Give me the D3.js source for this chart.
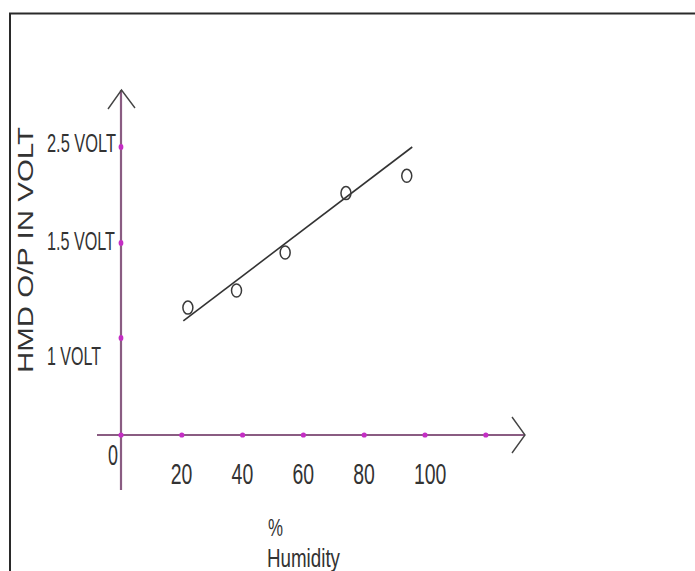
<!DOCTYPE html>
<html>
<head>
<meta charset="utf-8">
<script src="https://cdn.jsdelivr.net/npm/d3@7"></script>
<style>
  html, body { margin: 0; padding: 0; background: #fff; }
  svg { display: block; }
  text { font-family: "Liberation Sans", Arial, sans-serif; fill: #333; }
</style>
</head>
<body>
<script>
// ---- data ----
const humidity = [22, 38, 54, 74, 94];
const voltage = [1.16, 1.25, 1.45, 2.02, 2.20];
const fitHumidity = [20.5, 95.8];
const fitVoltage = [1.09, 2.50];
const xTickValues = [0, 20, 40, 60, 80, 100, 120];
const xTickLabels = ["20", "40", "60", "80", "100"];
const xLabelValues = [20, 40, 60, 80, 100];
const yTickValues = [1, 1.5, 2.5];
const yTickLabels = ["1 VOLT", "1.5 VOLT", "2.5 VOLT"];
const originLabel = "0";
const xTitle = ["%", "Humidity"];
const yTitle = "HMD O/P IN VOLT";

// ---- layout ----
const W = 695, H = 571;
const svg = d3.select("body").append("svg").attr("width", W).attr("height", H);
svg.append("rect").attr("width", W).attr("height", H).attr("fill", "#fff");

const x = d3.scaleLinear().domain([0, 100]).range([121, 425]);
const y = d3.scaleLinear().domain([0, 1, 1.5, 2.5]).range([435, 338, 243, 147]);

const axisColor = "#8a5c82";
const dotColor = "#c42ec4";
const ink = "#333";

// frame (top and left border)
svg.append("path")
  .attr("d", `M10,571 L10,13.5 L695,13.5`)
  .attr("fill", "none").attr("stroke", "#2a2a2a").attr("stroke-width", 2);

// axes lines
const x0 = x(0), y0 = y(0);
const yTop = y(2.5) - 57, yBottom = y0 + 55;
const xLeft = x0 - 24, xRight = x(100) + 100;
svg.append("line").attr("x1", x0).attr("x2", x0).attr("y1", yTop).attr("y2", yBottom)
  .attr("stroke", axisColor).attr("stroke-width", 2.2);
svg.append("line").attr("x1", xLeft).attr("x2", xRight).attr("y1", y0).attr("y2", y0)
  .attr("stroke", axisColor).attr("stroke-width", 2.2);

// arrow heads
svg.append("path")
  .attr("d", `M${x0 - 13},${yTop + 19} L${x0 + 0.5},${yTop} L${x0 + 14},${yTop + 18}`)
  .attr("fill", "none").attr("stroke", "#444").attr("stroke-width", 1.4);
svg.append("path")
  .attr("d", `M${xRight - 13},${y0 - 18} L${xRight},${y0} L${xRight - 13},${y0 + 18}`)
  .attr("fill", "none").attr("stroke", "#444").attr("stroke-width", 1.4);

// tick dots
svg.selectAll(".xdot").data(xTickValues).enter().append("ellipse")
  .attr("cx", d => x(d)).attr("cy", y0).attr("rx", 2.6).attr("ry", 2.6).attr("fill", dotColor);
svg.selectAll(".ydot").data(yTickValues).enter().append("ellipse")
  .attr("cx", x0).attr("cy", d => y(d)).attr("rx", 2.4).attr("ry", 3).attr("fill", dotColor);

// y tick labels
const yLabelShift = { "1 VOLT": 27, "1.5 VOLT": 7, "2.5 VOLT": 4.7 };
const yLabelLen = { "1 VOLT": 54, "1.5 VOLT": 68, "2.5 VOLT": 69 };
svg.selectAll(".ylab").data(yTickValues).enter().append("text")
  .attr("x", 47)
  .attr("y", (d, i) => y(d) + yLabelShift[yTickLabels[i]])
  .attr("font-size", 26)
  .attr("textLength", (d, i) => yLabelLen[yTickLabels[i]])
  .attr("lengthAdjust", "spacingAndGlyphs")
  .text((d, i) => yTickLabels[i]);

// x tick labels
svg.selectAll(".xlab").data(xLabelValues).enter().append("text")
  .attr("x", d => x(d) - 11)
  .attr("y", y0 + 49)
  .attr("font-size", 29)
  .attr("textLength", (d, i) => xTickLabels[i].length * 10.8)
  .attr("lengthAdjust", "spacingAndGlyphs")
  .text((d, i) => xTickLabels[i]);

// origin label
svg.append("text").attr("x", x0 - 13).attr("y", y0 + 30)
  .attr("font-size", 29).attr("textLength", 10).attr("lengthAdjust", "spacingAndGlyphs")
  .text(originLabel);

// x title
svg.append("text").attr("x", 268).attr("y", 536).attr("font-size", 24)
  .attr("textLength", 15).attr("lengthAdjust", "spacingAndGlyphs").text(xTitle[0]);
svg.append("text").attr("x", 267).attr("y", 567).attr("font-size", 25)
  .attr("textLength", 73).attr("lengthAdjust", "spacingAndGlyphs").text(xTitle[1]);

// y title
svg.append("text").attr("transform", "translate(33,250) rotate(-90)")
  .attr("text-anchor", "middle").attr("font-size", 22)
  .attr("textLength", 246).attr("lengthAdjust", "spacingAndGlyphs")
  .text(yTitle);

// fit line
svg.append("line")
  .attr("x1", x(fitHumidity[0])).attr("y1", y(fitVoltage[0]))
  .attr("x2", x(fitHumidity[1])).attr("y2", y(fitVoltage[1]))
  .attr("stroke", ink).attr("stroke-width", 1.6);

// data points
svg.selectAll(".pt").data(humidity).enter().append("ellipse")
  .attr("cx", d => x(d)).attr("cy", (d, i) => y(voltage[i]))
  .attr("rx", 5).attr("ry", 6.5)
  .attr("fill", "none").attr("stroke", "#3a3a3a").attr("stroke-width", 1.5);
</script>
</body>
</html>
